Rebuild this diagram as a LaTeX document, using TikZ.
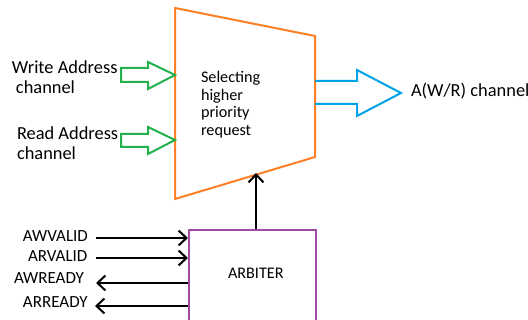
\documentclass[tikz,border=0pt]{standalone}
\usepackage{fontspec}
\setmainfont{Carlito}
\usetikzlibrary{arrows.meta}
\definecolor{orng}{HTML}{FF7F27}
\definecolor{grn}{HTML}{22B14C}
\definecolor{blu}{HTML}{00A2E8}
\definecolor{purp}{HTML}{A349A4}
\begin{document}
\begin{tikzpicture}[x=1pt,y=-1pt,line width=2pt,
  sig/.style={black,-{Straight Barb[length=8pt,width=15pt,line width=2pt]}},
  big/.style={inner sep=0pt,anchor=base west,font=\fontsize{18.4}{20}\selectfont},
  mid/.style={inner sep=0pt,anchor=base west,font=\fontsize{16.2}{18}\selectfont},
  small/.style={inner sep=0pt,anchor=base west,font=\fontsize{17}{18}\selectfont},
  blk/.style={line join=miter}]
\useasboundingbox (0,0) rectangle (528,320);
\clip (0,0) rectangle (528,320);
% multiplexer
\coordinate (tl) at (175,8);
\coordinate (tr) at (315,36);
\coordinate (br) at (315,157);
\coordinate (bl) at (175,199);
\draw[orng,blk] (tl) -- (tr) -- (br) -- (bl) -- cycle;
% input block arrows
\draw[grn,blk] (121,68) -- (148,68) -- (148,62) -- (175,75) -- (148,89) -- (148,82) -- (121,82) -- cycle;
\draw[grn,blk] (121,134) -- (148,134) -- (148,127) -- (175,140) -- (148,154) -- (148,147) -- (121,147) -- cycle;
% output block arrow
\draw[blu,blk] (315,81) -- (357,81) -- (357,70) -- (401,93) -- (357,116) -- (357,104) -- (315,104);
% texts
\node[big] (w1) at (11,74) {Write Address};
\node[big] (w2) at (15,94) {channel};
\node[big] (r1) at (16,139.5) {Read Address};
\node[big] (r2) at (16,160) {channel};
\node[big] (out) at (410,97) {A(W/R) channel};
\node[mid] (s1) at (200,83) {Selecting};
\node[mid] (s2) at (200,100.5) {higher};
\node[mid] (s3) at (200,118) {priority};
\node[mid] (s4) at (200,136) {request};
% arbiter
\node[draw=purp,minimum width=127pt,minimum height=110pt,anchor=north west,inner sep=0pt] (arb) at (188,229) {};
\node[mid] (arbl) at (227,279) {ARBITER};
\coordinate (mt) at (256,173);
\draw[sig] (arb.north -| mt) -- (mt);
% signals
\node[small] (awv) at (22,242) {AWVALID};
\node[small] (arv) at (27,262) {ARVALID};
\node[small] (awr) at (13,284) {AWREADY};
\node[small] (arr) at (22,308) {ARREADY};
\coordinate (a1) at (96,238);
\coordinate (a2) at (96,258);
\coordinate (a3) at (96,283);
\coordinate (a4) at (95,306);
\draw[sig] (a1) -- (a1 -| arb.west);
\draw[sig] (a2) -- (a2 -| arb.west);
\draw[sig] (a3 -| arb.west) -- (a3);
\draw[sig] (a4 -| arb.west) -- (a4);
\end{tikzpicture}
\end{document}
